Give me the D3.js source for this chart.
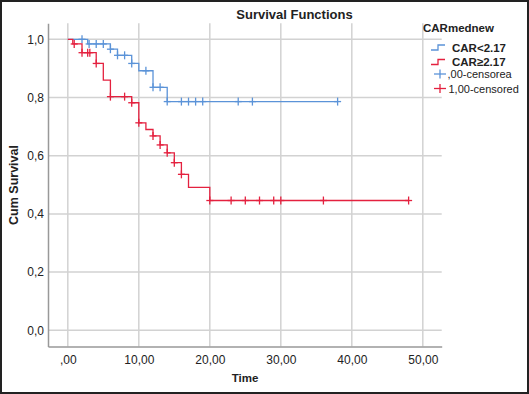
<!DOCTYPE html>
<html>
<head>
<meta charset="utf-8">
<script src="https://cdn.jsdelivr.net/npm/d3@7"></script>
<style>
  body { margin: 0; background: #fff; }
  svg text { font-family: "Liberation Sans", Arial, sans-serif; fill: #222; }
</style>
</head>
<body>
<svg id="chart" width="529" height="394"></svg>
<script>
// step functions: [time, cumulative survival]
const lowSteps = [[0, 1.0], [2.8, 0.984], [6, 0.966], [7, 0.945], [9, 0.917], [10, 0.892], [12, 0.835], [14, 0.786]];
const lowEnd = 38;
const lowCensored = [2, 3, 4, 5, 6, 7, 8, 9, 11, 12, 13, 14, 16, 17, 18, 19, 24, 26, 38];

const highSteps = [[0, 1.0], [0.7, 0.984], [2, 0.954], [4, 0.917], [5, 0.86], [6, 0.803], [9, 0.782], [10, 0.713],
  [11, 0.69], [12, 0.668], [13, 0.637], [14, 0.61], [15, 0.576], [16, 0.536], [17, 0.491], [20, 0.446]];
const highEnd = 48;
const highCensored = [0.9, 2, 2.8, 3.1, 4, 6, 8, 9, 10, 12, 13, 14, 15, 16, 20, 23, 25, 27, 29, 30, 36, 48];

const xTicks = [0, 10, 20, 30, 40, 50];
const yTicks = [0, 0.2, 0.4, 0.6, 0.8, 1.0];
const legendItems = ["CAR<2.17", "CAR\u22652.17", ",00-censorea", "1,00-censored"];

const blue = "#5b93d8";
const red = "#e4213f";

let svg = d3.select("#chart");

let x = d3.scaleLinear().domain([-2.79, 52.66]).range([48, 441.7]);
let y = d3.scaleLinear().domain([-0.056, 1.055]).range([346.6, 23.3]);

// outer frame
svg.append("rect")
    .attr("x", 1).attr("y", 1)
    .attr("width", 527).attr("height", 392)
    .attr("fill", "none")
    .attr("stroke", "#222")
    .attr("stroke-width", 2);

// title
svg.append("text")
    .attr("x", 294.5).attr("y", 18.5)
    .attr("text-anchor", "middle")
    .style("font-weight", "bold")
    .style("font-size", "13px")
    .text("Survival Functions");

// grid
svg.append("g").selectAll("line")
    .data(xTicks).enter().append("line")
    .attr("x1", d => x(d)).attr("x2", d => x(d))
    .attr("y1", y.range()[1]).attr("y2", y.range()[0])
    .attr("stroke", "#d2d2d2")
    .attr("stroke-width", 1.5);

svg.append("g").selectAll("line")
    .data(yTicks).enter().append("line")
    .attr("x1", x.range()[0]).attr("x2", x.range()[1])
    .attr("y1", d => y(d)).attr("y2", d => y(d))
    .attr("stroke", "#d2d2d2")
    .attr("stroke-width", 1.5);

// axes (comma decimals; the x axis drops the leading zero like SPSS does)
let xFmt = v => d3.format(".2f")(v).replace(/^0\./, ".").replace(".", ",");
let yFmt = v => d3.format(".1f")(v).replace(".", ",");

let xAxis = svg.append("g")
    .attr("transform", `translate(0,${y.range()[0]})`)
    .call(d3.axisBottom(x).tickValues(xTicks).tickSize(0).tickPadding(9).tickFormat(xFmt));

let yAxis = svg.append("g")
    .attr("transform", `translate(${x.range()[0]},0)`)
    .call(d3.axisLeft(y).tickValues(yTicks).tickSize(0).tickPadding(4).tickFormat(yFmt));

[xAxis, yAxis].forEach(a => {
    a.select(".domain").attr("stroke", "#999").attr("stroke-width", 1.5);
    a.selectAll("text").style("font-size", "12px").style("font-family", "Liberation Sans, Arial, sans-serif").attr("fill", "#222");
});

svg.append("text")
    .attr("x", 245).attr("y", 382)
    .attr("text-anchor", "middle")
    .style("font-weight", "bold")
    .style("font-size", "11.5px")
    .text("Time");

svg.append("text")
    .attr("transform", "translate(18,185) rotate(-90)")
    .attr("text-anchor", "middle")
    .style("font-weight", "bold")
    .style("font-size", "12.5px")
    .text("Cum Survival");

// curves
function survAt(steps, t) {
    let s = steps[0][1];
    steps.forEach(d => { if (d[0] <= t) s = d[1]; });
    return s;
}

function drawGroup(steps, end, censored, color) {
    let pts = steps.concat([[end, steps[steps.length - 1][1]]]);
    let line = d3.line().x(d => x(d[0])).y(d => y(d[1])).curve(d3.curveStepAfter);
    svg.append("path")
        .datum(pts)
        .attr("d", line)
        .attr("fill", "none")
        .attr("stroke", color)
        .attr("stroke-width", 1.3);

    let g = svg.append("g").attr("stroke", color).attr("stroke-width", 1.3);
    censored.forEach(t => {
        let cx = x(t), cy = y(survAt(steps, t));
        g.append("line").attr("x1", cx - 3.5).attr("x2", cx + 3.5).attr("y1", cy).attr("y2", cy);
        g.append("line").attr("x1", cx).attr("x2", cx).attr("y1", cy - 4).attr("y2", cy + 4);
    });
}

drawGroup(lowSteps, lowEnd, lowCensored, blue);
drawGroup(highSteps, highEnd, highCensored, red);

// legend
let legend = svg.append("g");
legend.append("text")
    .attr("x", 423).attr("y", 31.5)
    .style("font-weight", "bold")
    .style("font-size", "11.5px")
    .text("CARmednew");

const legendColors = [blue, red, blue, red];
const legendY = [47.5, 62, 74, 88.5];
legendItems.forEach((label, i) => {
    let cy = legendY[i];
    if (i < 2) {
        legend.append("path")
            .attr("d", `M431,${cy + 2.5}H438V${cy - 2.5}H445`)
            .attr("fill", "none")
            .attr("stroke", legendColors[i])
            .attr("stroke-width", 1.3);
    } else {
        legend.append("line").attr("x1", 434).attr("x2", 446).attr("y1", cy).attr("y2", cy)
            .attr("stroke", legendColors[i]).attr("stroke-width", 1.3);
        legend.append("line").attr("x1", 440).attr("x2", 440).attr("y1", cy - 4.5).attr("y2", cy + 4.5)
            .attr("stroke", legendColors[i]).attr("stroke-width", 1.3);
    }
    legend.append("text")
        .attr("x", i < 2 ? 452 : (i === 2 ? 447.5 : 448.5))
        .attr("y", cy + 4)
        .style("font-weight", i < 2 ? "bold" : "normal")
        .style("font-size", i < 2 ? "11.5px" : "11px")
        .text(label);
});
</script>
</body>
</html>
